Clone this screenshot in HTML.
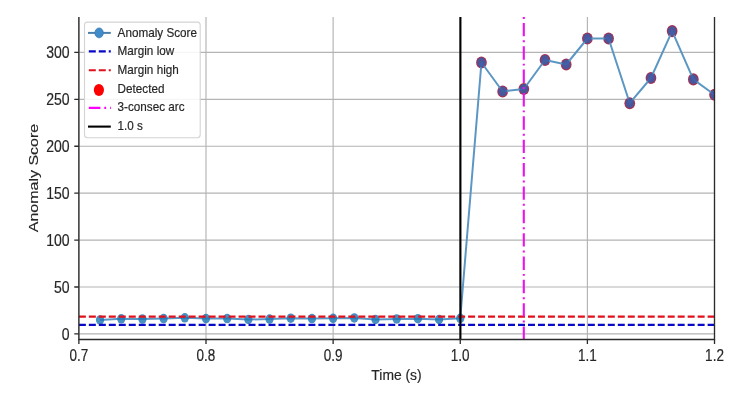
<!DOCTYPE html><html><head><meta charset="utf-8"><style>html,body{margin:0;padding:0;background:#fff;}svg{display:block;will-change:transform;}text{font-family:"Liberation Sans", sans-serif;fill:#262626;stroke:#262626;stroke-width:0.18px;}</style></head><body>
<svg width="753" height="416" viewBox="0 0 753 416">
<defs><clipPath id="ax"><rect x="78.87" y="17.00" width="635.63" height="322.50"/></clipPath></defs>
<g><rect x="0" y="0" width="753" height="416" fill="#fff"/>
<path d="M78.87 17.00V339.50 M206.00 17.00V339.50 M333.13 17.00V339.50 M460.26 17.00V339.50 M587.39 17.00V339.50 M714.52 17.00V339.50 M78.87 333.90H714.50 M78.87 286.98H714.50 M78.87 240.07H714.50 M78.87 193.15H714.50 M78.87 146.23H714.50 M78.87 99.32H714.50 M78.87 52.40H714.50" stroke="#b4b4b4" stroke-width="1.15" fill="none"/>
<g clip-path="url(#ax)">
<g opacity="0.72">
</g>
<ellipse cx="481.45" cy="62.50" rx="5.35" ry="6.05" fill="#a83050"/>
<ellipse cx="502.64" cy="91.50" rx="5.35" ry="6.05" fill="#a83050"/>
<ellipse cx="523.83" cy="89.00" rx="5.35" ry="6.05" fill="#a83050"/>
<ellipse cx="545.01" cy="60.00" rx="5.35" ry="6.05" fill="#a83050"/>
<ellipse cx="566.20" cy="64.50" rx="5.35" ry="6.05" fill="#a83050"/>
<ellipse cx="587.39" cy="38.50" rx="5.35" ry="6.05" fill="#a83050"/>
<ellipse cx="608.58" cy="38.50" rx="5.35" ry="6.05" fill="#a83050"/>
<ellipse cx="629.77" cy="103.20" rx="5.35" ry="6.05" fill="#a83050"/>
<ellipse cx="650.95" cy="78.00" rx="5.35" ry="6.05" fill="#a83050"/>
<ellipse cx="672.14" cy="31.10" rx="5.35" ry="6.05" fill="#a83050"/>
<ellipse cx="693.33" cy="79.40" rx="5.35" ry="6.05" fill="#a83050"/>
<ellipse cx="714.52" cy="94.80" rx="5.35" ry="6.05" fill="#a83050"/>
<path d="M100.06 319.90 L121.25 318.80 L142.44 319.10 L163.62 318.60 L184.81 317.80 L206.00 318.60 L227.19 318.60 L248.38 319.50 L269.56 319.10 L290.75 318.20 L311.94 318.60 L333.13 318.30 L354.32 317.90 L375.51 319.50 L396.69 318.90 L417.88 318.70 L439.07 319.50 L460.26 318.30 L481.45 62.50 L502.64 91.50 L523.83 89.00 L545.01 60.00 L566.20 64.50 L587.39 38.50 L608.58 38.50 L629.77 103.20 L650.95 78.00 L672.14 31.10 L693.33 79.40 L714.52 94.80" stroke="#5c97c4" stroke-opacity="1" stroke-width="2.0" fill="none" stroke-linejoin="round"/>
<ellipse cx="100.06" cy="319.90" rx="4.15" ry="4.75" fill="#1f77b4" fill-opacity="0.82"/>
<ellipse cx="121.25" cy="318.80" rx="4.15" ry="4.75" fill="#1f77b4" fill-opacity="0.82"/>
<ellipse cx="142.44" cy="319.10" rx="4.15" ry="4.75" fill="#1f77b4" fill-opacity="0.82"/>
<ellipse cx="163.62" cy="318.60" rx="4.15" ry="4.75" fill="#1f77b4" fill-opacity="0.82"/>
<ellipse cx="184.81" cy="317.80" rx="4.15" ry="4.75" fill="#1f77b4" fill-opacity="0.82"/>
<ellipse cx="206.00" cy="318.60" rx="4.15" ry="4.75" fill="#1f77b4" fill-opacity="0.82"/>
<ellipse cx="227.19" cy="318.60" rx="4.15" ry="4.75" fill="#1f77b4" fill-opacity="0.82"/>
<ellipse cx="248.38" cy="319.50" rx="4.15" ry="4.75" fill="#1f77b4" fill-opacity="0.82"/>
<ellipse cx="269.56" cy="319.10" rx="4.15" ry="4.75" fill="#1f77b4" fill-opacity="0.82"/>
<ellipse cx="290.75" cy="318.20" rx="4.15" ry="4.75" fill="#1f77b4" fill-opacity="0.82"/>
<ellipse cx="311.94" cy="318.60" rx="4.15" ry="4.75" fill="#1f77b4" fill-opacity="0.82"/>
<ellipse cx="333.13" cy="318.30" rx="4.15" ry="4.75" fill="#1f77b4" fill-opacity="0.82"/>
<ellipse cx="354.32" cy="317.90" rx="4.15" ry="4.75" fill="#1f77b4" fill-opacity="0.82"/>
<ellipse cx="375.51" cy="319.50" rx="4.15" ry="4.75" fill="#1f77b4" fill-opacity="0.82"/>
<ellipse cx="396.69" cy="318.90" rx="4.15" ry="4.75" fill="#1f77b4" fill-opacity="0.82"/>
<ellipse cx="417.88" cy="318.70" rx="4.15" ry="4.75" fill="#1f77b4" fill-opacity="0.82"/>
<ellipse cx="439.07" cy="319.50" rx="4.15" ry="4.75" fill="#1f77b4" fill-opacity="0.82"/>
<ellipse cx="460.26" cy="318.30" rx="4.15" ry="4.75" fill="#1f77b4" fill-opacity="0.82"/>
<ellipse cx="481.45" cy="62.50" rx="4.25" ry="4.9" fill="#3e5aa4" fill-opacity="0.88"/>
<ellipse cx="502.64" cy="91.50" rx="4.25" ry="4.9" fill="#3e5aa4" fill-opacity="0.88"/>
<ellipse cx="523.83" cy="89.00" rx="4.25" ry="4.9" fill="#3e5aa4" fill-opacity="0.88"/>
<ellipse cx="545.01" cy="60.00" rx="4.25" ry="4.9" fill="#3e5aa4" fill-opacity="0.88"/>
<ellipse cx="566.20" cy="64.50" rx="4.25" ry="4.9" fill="#3e5aa4" fill-opacity="0.88"/>
<ellipse cx="587.39" cy="38.50" rx="4.25" ry="4.9" fill="#3e5aa4" fill-opacity="0.88"/>
<ellipse cx="608.58" cy="38.50" rx="4.25" ry="4.9" fill="#3e5aa4" fill-opacity="0.88"/>
<ellipse cx="629.77" cy="103.20" rx="4.25" ry="4.9" fill="#3e5aa4" fill-opacity="0.88"/>
<ellipse cx="650.95" cy="78.00" rx="4.25" ry="4.9" fill="#3e5aa4" fill-opacity="0.88"/>
<ellipse cx="672.14" cy="31.10" rx="4.25" ry="4.9" fill="#3e5aa4" fill-opacity="0.88"/>
<ellipse cx="693.33" cy="79.40" rx="4.25" ry="4.9" fill="#3e5aa4" fill-opacity="0.88"/>
<ellipse cx="714.52" cy="94.80" rx="4.25" ry="4.9" fill="#3e5aa4" fill-opacity="0.88"/>
<path d="M78.87 324.9H714.50" stroke="#0808c8" stroke-width="2.1" stroke-dasharray="7 2.98" fill="none"/>
<path d="M78.87 316.6H714.50" stroke="#e0101c" stroke-width="2.1" stroke-dasharray="7 2.98" fill="none"/>
<path d="M460.4 339.50V17.00" stroke="#000" stroke-width="2.1" fill="none"/>
<path d="M523.8 339.50V17.00" stroke="#ee10ee" stroke-width="2.1" stroke-dasharray="13.4 4 1.96 4" stroke-dashoffset="0.48" fill="none"/>
</g>
<path d="M78.87 17.00V339.50H714.50V17.00" stroke="#2a2a2a" stroke-width="1.3" fill="none"/>
<path d="M78.87 339.50V344.10 M206.00 339.50V344.10 M333.13 339.50V344.10 M460.26 339.50V344.10 M587.39 339.50V344.10 M714.52 339.50V344.10 M74.27 333.90H78.87 M74.27 286.98H78.87 M74.27 240.07H78.87 M74.27 193.15H78.87 M74.27 146.23H78.87 M74.27 99.32H78.87 M74.27 52.40H78.87" stroke="#2a2a2a" stroke-width="1.3" fill="none"/>
<text x="69.6" y="339.55" font-size="15.8" text-anchor="end" transform="translate(69.6 0) scale(0.89 1) translate(-69.6 0)">0</text>
<text x="69.6" y="292.63" font-size="15.8" text-anchor="end" transform="translate(69.6 0) scale(0.89 1) translate(-69.6 0)">50</text>
<text x="69.6" y="245.72" font-size="15.8" text-anchor="end" transform="translate(69.6 0) scale(0.89 1) translate(-69.6 0)">100</text>
<text x="69.6" y="198.80" font-size="15.8" text-anchor="end" transform="translate(69.6 0) scale(0.89 1) translate(-69.6 0)">150</text>
<text x="69.6" y="151.88" font-size="15.8" text-anchor="end" transform="translate(69.6 0) scale(0.89 1) translate(-69.6 0)">200</text>
<text x="69.6" y="104.97" font-size="15.8" text-anchor="end" transform="translate(69.6 0) scale(0.89 1) translate(-69.6 0)">250</text>
<text x="69.6" y="58.05" font-size="15.8" text-anchor="end" transform="translate(69.6 0) scale(0.89 1) translate(-69.6 0)">300</text>
<text x="78.87" y="360.7" font-size="15.8" text-anchor="middle" transform="translate(78.87 0) scale(0.855 1) translate(-78.87 0)">0.7</text>
<text x="206.00" y="360.7" font-size="15.8" text-anchor="middle" transform="translate(206.00 0) scale(0.855 1) translate(-206.00 0)">0.8</text>
<text x="333.13" y="360.7" font-size="15.8" text-anchor="middle" transform="translate(333.13 0) scale(0.855 1) translate(-333.13 0)">0.9</text>
<text x="460.26" y="360.7" font-size="15.8" text-anchor="middle" transform="translate(460.26 0) scale(0.855 1) translate(-460.26 0)">1.0</text>
<text x="587.39" y="360.7" font-size="15.8" text-anchor="middle" transform="translate(587.39 0) scale(0.855 1) translate(-587.39 0)">1.1</text>
<text x="714.52" y="360.7" font-size="15.8" text-anchor="middle" transform="translate(714.52 0) scale(0.855 1) translate(-714.52 0)">1.2</text>
<text x="396.5" y="380.3" font-size="15.4" text-anchor="middle" transform="translate(396.5 0) scale(0.9 1) translate(-396.5 0)">Time (s)</text>
<text x="0" y="0" font-size="16.0" text-anchor="middle" transform="translate(38.2 178) scale(0.82 1) rotate(-90)">Anomaly Score</text>
<rect x="84.50" y="22.10" width="115.70" height="115.60" rx="3" ry="3" fill="#fff" fill-opacity="0.88" stroke="#d4d4d4" stroke-width="1.1"/>
<path d="M88.00 32.90H110.80" stroke="#4a80ad" stroke-width="2.0"/>
<ellipse cx="99.1" cy="32.90" rx="4.2" ry="4.9" fill="#408ccb" stroke="#3a78b0" stroke-width="0.8"/>
<path d="M88.80 51.40H110.80" stroke="#0808c8" stroke-width="2.1" stroke-dasharray="7 2.98"/>
<path d="M88.80 70.20H110.80" stroke="#e0101c" stroke-width="2.1" stroke-dasharray="7 2.98"/>
<ellipse cx="98.9" cy="90.00" rx="5.1" ry="5.9" fill="#ff0000"/>
<path d="M88.80 107.90H110.80" stroke="#ff00ff" stroke-width="2.1" stroke-dasharray="11.6 3.9 1.8 3.9"/>
<path d="M88.00 126.60H110.80" stroke="#000" stroke-width="2.1"/>
<text x="117.6" y="36.80" font-size="12.6" transform="translate(117.6 0) scale(0.93 1) translate(-117.6 0)">Anomaly Score</text>
<text x="117.6" y="55.40" font-size="12.6" transform="translate(117.6 0) scale(0.93 1) translate(-117.6 0)">Margin low</text>
<text x="117.6" y="73.80" font-size="12.6" transform="translate(117.6 0) scale(0.93 1) translate(-117.6 0)">Margin high</text>
<text x="117.6" y="92.70" font-size="12.6" transform="translate(117.6 0) scale(0.93 1) translate(-117.6 0)">Detected</text>
<text x="117.6" y="111.20" font-size="12.6" transform="translate(117.6 0) scale(0.93 1) translate(-117.6 0)">3-consec arc</text>
<text x="117.6" y="130.20" font-size="12.6" transform="translate(117.6 0) scale(0.93 1) translate(-117.6 0)">1.0 s</text>
</g></svg></body></html>
